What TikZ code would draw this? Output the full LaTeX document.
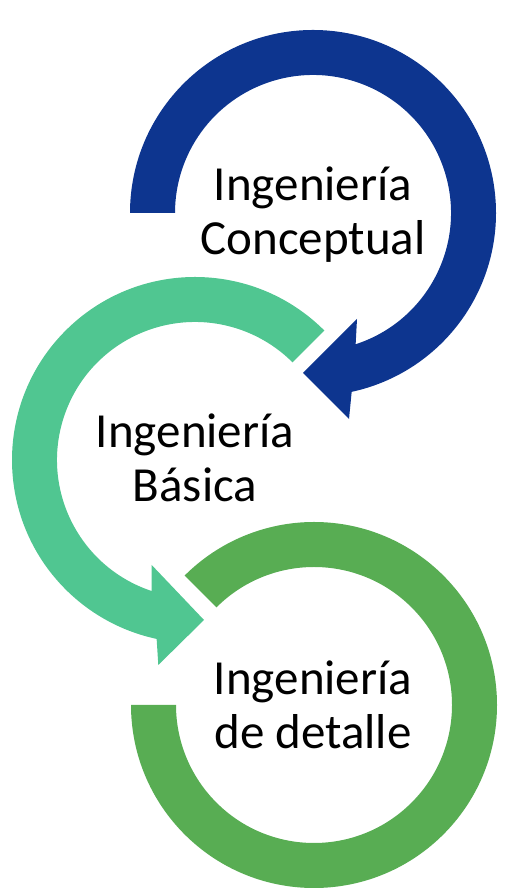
\documentclass[tikz,border=0pt]{standalone}
\usepackage{fontspec}
\setmainfont{Carlito}
\usetikzlibrary{calc}
\definecolor{cblue}{RGB}{13,53,143}
\definecolor{clgreen}{RGB}{80,198,145}
\definecolor{cgreen}{RGB}{88,173,83}
\begin{document}
\begin{tikzpicture}[x=1pt,y=1pt,
  lbl/.style={anchor=base,align=center,inner sep=0pt,font=\fontsize{49}{54}\selectfont}]
\useasboundingbox (0,0) rectangle (510,890);
\coordinate (c1) at (313,677);
\coordinate (c2) at (195,430);
\coordinate (c3) at (314,185);
% top arrow (dark blue)
\fill[cblue] ($(c1)+(180:183)$) arc[start angle=180,end angle=-77.8,radius=183]
  -- (349,471) -- (303,517) -- (357,571)
  -- ($(c1)+(-72:138)$) arc[start angle=-72,end angle=180,radius=138] -- cycle;
% middle arrow (light green)
\fill[clgreen] ($(c2)+(45:183)$) arc[start angle=45,end angle=257.9,radius=183]
  -- (158.3,225) -- (204,270) -- (151.7,325)
  -- ($(c2)+(251.7:138)$) arc[start angle=251.7,end angle=45,radius=138] -- cycle;
% bottom ring (green)
\fill[cgreen] ($(c3)+(180:183)$) arc[start angle=180,end angle=495,radius=183]
  -- ($(c3)+(495:138)$) arc[start angle=495,end angle=180,radius=138] -- cycle;
% labels (base anchor = baseline of last line)
\node[lbl] (t1) at (313,635) {Ingeniería\\Conceptual};
\node[lbl] (t2) at (195,388) {Ingeniería\\Básica};
\node[lbl] (t3) at (313,141) {Ingeniería\\de detalle};
\end{tikzpicture}
\end{document}
